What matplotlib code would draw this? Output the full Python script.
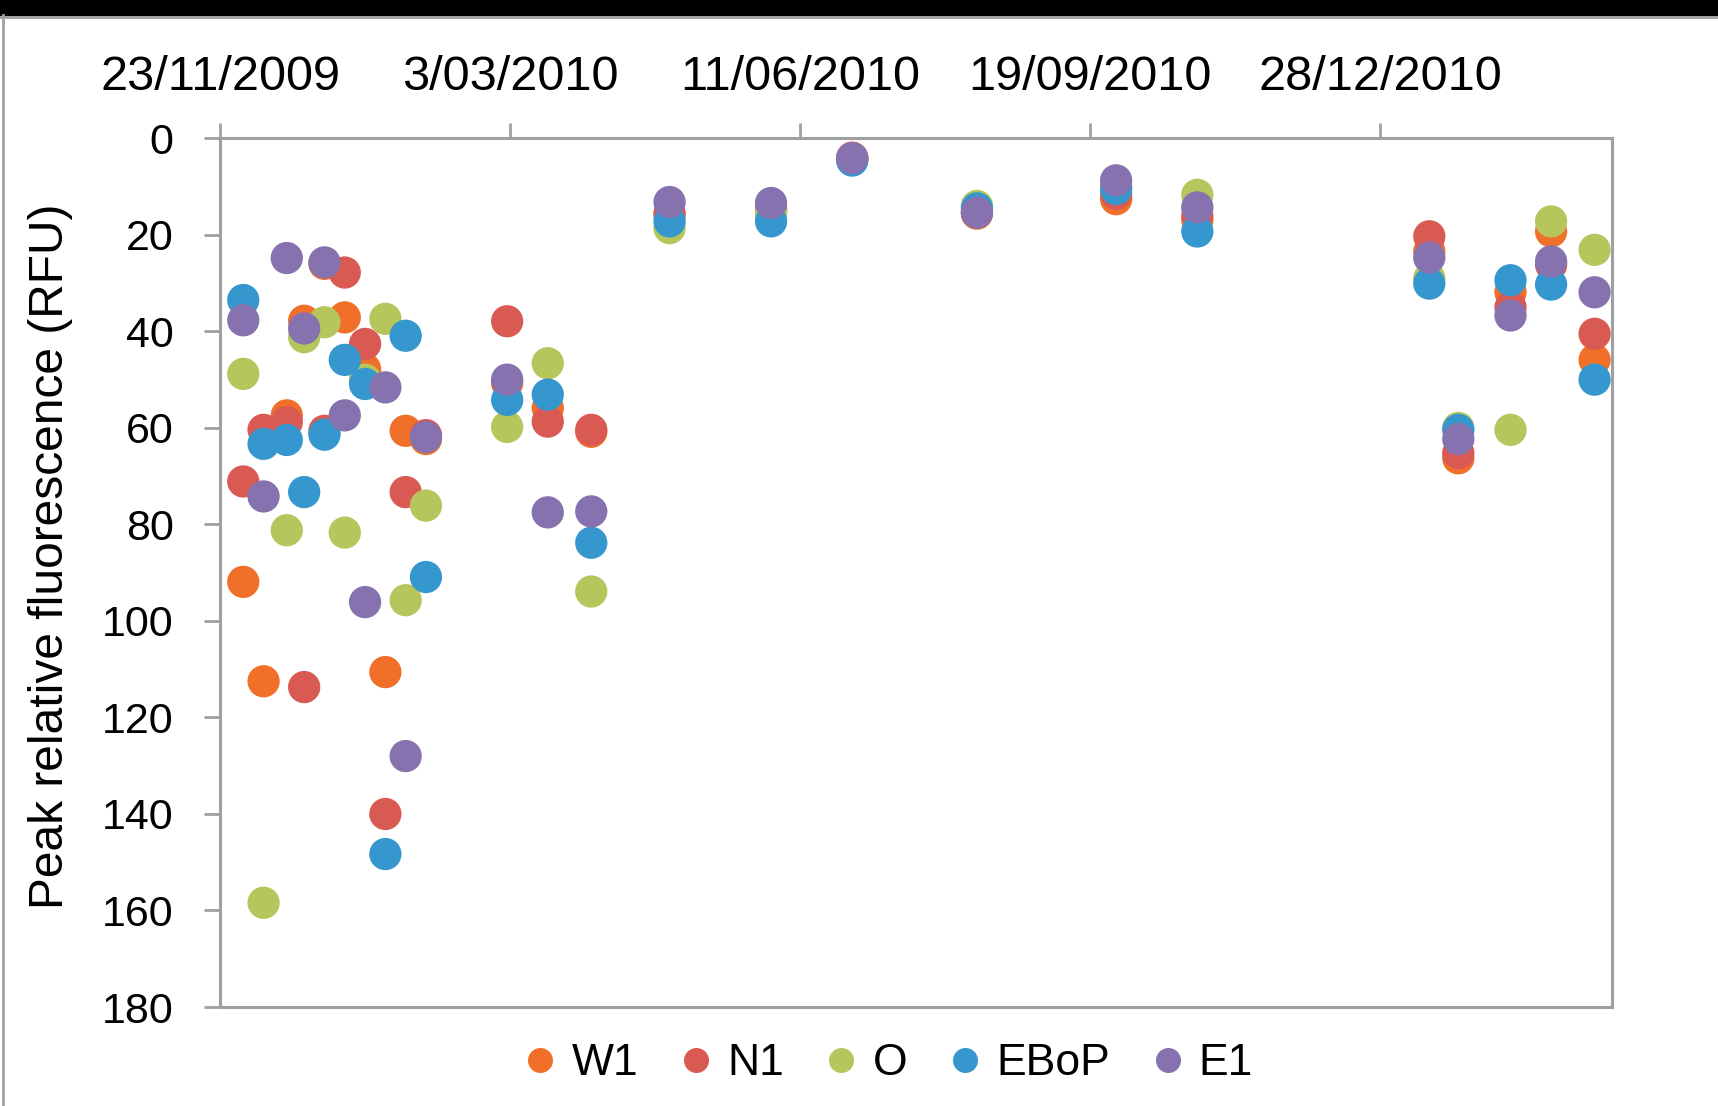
import datetime as dt
import matplotlib
matplotlib.use("Agg")
import matplotlib.pyplot as plt
from matplotlib.lines import Line2D

plt.rcParams['font.family'] = ['Liberation Sans', 'DejaVu Sans']

# sampling dates and peak fluorescence per site (RFU)
dates = ['2009-12-01', '2009-12-08', '2009-12-16', '2009-12-22', '2009-12-29',
         '2010-01-05', '2010-01-12', '2010-01-19', '2010-01-26', '2010-02-02',
         '2010-03-02', '2010-03-16', '2010-03-31', '2010-04-27', '2010-06-01',
         '2010-06-29', '2010-08-11', '2010-09-28', '2010-10-26', '2011-01-14',
         '2011-01-24', '2011-02-11', '2011-02-25', '2011-03-12']

W1 = [91.9, 112.5, 57.4, 37.8, 26.0, 37.1, 47.8, 110.6, 60.6, 62.3, 50.7, 55.9,
      60.8, 16.0, 15.0, 4.2, 15.6, 12.6, 16.9, 23.4, 66.3, 31.9, 19.3, 45.9]
N1 = [71.1, 60.4, 58.8, 113.7, 60.6, 27.8, 42.6, 140.0, 73.3, 61.5, 37.9, 58.7,
      60.4, 15.5, 14.8, 4.0, 15.3, 11.5, 16.0, 20.3, 65.2, 35.0, 26.2, 40.5]
O = [48.8, 158.4, 81.2, 41.2, 38.1, 81.7, 50.0, 37.4, 95.7, 76.1, 59.8, 46.6,
     93.9, 18.6, 15.5, 4.3, 14.0, 10.0, 11.7, 29.0, 60.0, 60.4, 17.2, 23.1]
EBoP = [33.5, 63.3, 62.5, 73.3, 61.4, 45.9, 50.9, 148.3, 40.9, 90.9, 54.2, 53.1,
        83.8, 17.2, 17.2, 4.6, 14.5, 10.5, 19.3, 30.1, 60.4, 29.4, 30.3, 50.0]
E1 = [37.7, 74.2, 24.8, 39.4, 25.7, 57.4, 96.1, 51.6, 128.0, 61.9, 50.0, 77.5,
      77.3, 13.2, 13.4, 4.1, 15.4, 8.7, 14.3, 24.7, 62.3, 36.7, 25.5, 31.9]

names = ['W1', 'N1', 'O', 'EBoP', 'E1']
series = [W1, N1, O, EBoP, E1]
colors = ['#F0702A', '#D95A53', '#B6C65C', '#3697CE', '#8672AE']

x = [dt.datetime.strptime(d, '%Y-%m-%d') for d in dates]

fig = plt.figure(figsize=(17.18, 11.06), dpi=100)
ax = fig.add_axes([0.1281, 0.0895, 0.8102, 0.7854])

for name, vals, c in zip(names, series, colors):
    ax.scatter(x, vals, s=540, color=c, edgecolors='none', label=name, zorder=3)

# date axis: 100 day steps from 23/11/2009, drawn at the top
start = dt.datetime(2009, 11, 23)
ticks = [start + dt.timedelta(days=100 * i) for i in range(5)]
ax.set_xlim(start, start + dt.timedelta(days=480))
ax.set_xticks(ticks)
ax.set_xticklabels([f"{t.day}/{t.month:02d}/{t.year}" for t in ticks])
ax.xaxis.tick_top()

ax.set_ylim(180, 0)
ax.set_yticks(range(0, 181, 20))

gray = '#A0A0A0'
for sp in ax.spines.values():
    sp.set_color(gray)
    sp.set_linewidth(2.2)
ax.tick_params(axis='x', which='major', direction='out', length=11, width=2,
               color=gray, labelsize=35, pad=16.5)
ax.tick_params(axis='y', which='major', direction='out', length=11.5, width=2,
               color=gray, labelsize=31, pad=22)

ax.set_ylabel('Peak relative fluorescence (RFU)', fontsize=34.5)
ax.yaxis.set_label_coords(-0.106, 0.519)

handles = [Line2D([], [], marker='o', linestyle='none', markersize=18,
                  markerfacecolor=c, markeredgecolor='none') for c in colors]
fig.legend(handles, names, loc='center', bbox_to_anchor=(0.518, 0.038), ncol=5,
           frameon=False, fontsize=32, handlelength=0.6, handletextpad=0.4,
           columnspacing=1.0)

# chart-area frame: black band at the top, grey border on the left
fig.patches.append(plt.Rectangle((0, 1 - 15 / 1106), 1, 15 / 1106,
                                 transform=fig.transFigure, color='black'))
fig.lines.append(Line2D([0, 1], [1 - 17 / 1106] * 2, transform=fig.transFigure,
                        color=gray, linewidth=2))
fig.lines.append(Line2D([2.5 / 1718] * 2, [0, 1 - 15 / 1106],
                        transform=fig.transFigure, color=gray, linewidth=2))

fig.savefig('out.png', dpi=100)
